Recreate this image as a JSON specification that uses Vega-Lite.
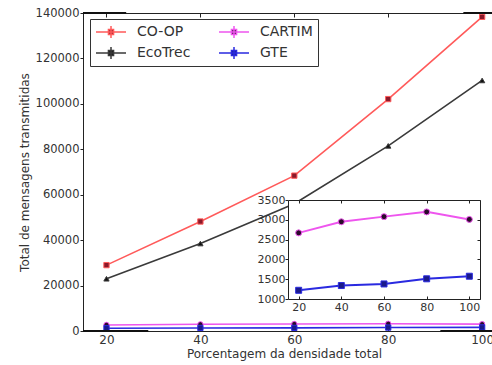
{
  "$schema": "https://vega.github.io/schema/vega-lite/v6.json",
  "width": 409,
  "height": 318,
  "autosize": {"type": "none"},
  "padding": {"left": 83, "top": 13, "right": 0, "bottom": 34},
  "background": "white",
  "config": {
    "view": {"stroke": null},
    "font": "DejaVu Sans",
    "axis": {
      "grid": false,
      "domainColor": "#222222",
      "tickColor": "#222222",
      "labelColor": "#333333",
      "titleColor": "#333333",
      "labelFont": "DejaVu Sans",
      "titleFont": "DejaVu Sans",
      "titleFontWeight": "normal"
    },
    "legend": {
      "orient": "none", "legendX": 7, "legendY": 6, "columns": 2, "title": null,
      "strokeColor": "#333333", "fillColor": "white", "padding": 5,
      "labelFontSize": 14, "labelOffset": 10, "labelColor": "#333333", "labelFont": "DejaVu Sans",
      "columnPadding": 27, "rowPadding": 5, "symbolSize": 900, "clipHeight": 16,
      "symbolStrokeWidth": 1.5,
      "symbolType": "M-1,0H1M0,-0.4V0.4M-0.17,-0.17H0.17V0.17H-0.17Z"
    }
  },
  "datasets": {
    "results": [
      {"protocolo": "CO-OP", "densidade": 20, "mensagens": 29000},
      {"protocolo": "CO-OP", "densidade": 40, "mensagens": 48200},
      {"protocolo": "CO-OP", "densidade": 60, "mensagens": 68400},
      {"protocolo": "CO-OP", "densidade": 80, "mensagens": 102100},
      {"protocolo": "CO-OP", "densidade": 100, "mensagens": 138300},
      {"protocolo": "EcoTrec", "densidade": 20, "mensagens": 23000},
      {"protocolo": "EcoTrec", "densidade": 40, "mensagens": 38500},
      {"protocolo": "EcoTrec", "densidade": 60, "mensagens": 56000},
      {"protocolo": "EcoTrec", "densidade": 80, "mensagens": 81500},
      {"protocolo": "EcoTrec", "densidade": 100, "mensagens": 110300},
      {"protocolo": "CARTIM", "densidade": 20, "mensagens": 2670},
      {"protocolo": "CARTIM", "densidade": 40, "mensagens": 2950},
      {"protocolo": "CARTIM", "densidade": 60, "mensagens": 3080},
      {"protocolo": "CARTIM", "densidade": 80, "mensagens": 3200},
      {"protocolo": "CARTIM", "densidade": 100, "mensagens": 3010},
      {"protocolo": "GTE", "densidade": 20, "mensagens": 1220},
      {"protocolo": "GTE", "densidade": 40, "mensagens": 1340},
      {"protocolo": "GTE", "densidade": 60, "mensagens": 1380},
      {"protocolo": "GTE", "densidade": 80, "mensagens": 1510},
      {"protocolo": "GTE", "densidade": 100, "mensagens": 1575}
    ],
    "spine_marks": [
      {"y": 0, "x": 15, "x2": 28.9},
      {"y": 0, "x": 91.1, "x2": 102.1},
      {"y": 140000, "x": 15, "x2": 24.2},
      {"y": 140000, "x": 96.0, "x2": 102.1}
    ]
  },
  "resolve": {"scale": {"x": "independent", "y": "independent"}},
  "layer": [
    {
      "data": {"name": "results"},
      "resolve": {"axis": {"x": "independent", "y": "independent"}},
      "layer": [
        {
          "mark": {"type": "line", "strokeWidth": 1.6},
          "encoding": {
            "x": {
              "field": "densidade", "type": "quantitative",
              "scale": {"domain": [15, 102.1], "nice": false, "zero": false},
              "axis": {
                "orient": "bottom", "values": [20, 40, 60, 80, 100], "format": "d",
                "labelFontSize": 12, "tickSize": -4, "labelPadding": 7,
                "title": "Porcentagem da densidade total", "titleFontSize": 12,
                "titlePadding": 3, "titleX": 201
              }
            },
            "y": {
              "field": "mensagens", "type": "quantitative",
              "scale": {"domain": [0, 140000], "nice": false, "zero": false},
              "axis": {
                "orient": "left", "values": [0, 20000, 40000, 60000, 80000, 100000, 120000, 140000],
                "format": "d", "labelFontSize": 11.5, "tickSize": 3, "labelPadding": 1,
                "title": "Total de mensagens transmitidas", "titleFontSize": 12,
                "titleX": -52, "titleY": 159
              }
            },
            "stroke": {
              "field": "protocolo", "type": "nominal",
              "scale": {"domain": ["CO-OP", "EcoTrec", "CARTIM", "GTE"], "range": ["#ff5a5a", "#3a3a3a", "#ee55ee", "#2a2ae0"]}
            }
          }
        },
        {
          "mark": {"type": "point", "filled": true, "size": 28, "strokeWidth": 1, "opacity": 1},
          "encoding": {
            "x": {
              "field": "densidade", "type": "quantitative",
              "axis": {"orient": "top", "values": [20, 40, 60, 80, 100], "labels": false, "tickSize": -4, "title": null}
            },
            "y": {"field": "mensagens", "type": "quantitative", "axis": null},
            "stroke": {"field": "protocolo", "type": "nominal"},
            "fill": {
              "field": "protocolo", "type": "nominal",
              "scale": {"domain": ["CO-OP", "EcoTrec", "CARTIM", "GTE"], "range": ["#8b1a2b", "#111111", "#2a0a2a", "#1a1a8a"]}
            },
            "shape": {
              "field": "protocolo", "type": "nominal",
              "scale": {"domain": ["CO-OP", "CARTIM", "EcoTrec", "GTE"], "range": ["square", "circle", "triangle-up", "square"]},
              "legend": null
            }
          }
        },
        {
          "data": {"name": "spine_marks"},
          "mark": {"type": "rule", "strokeWidth": 2, "color": "#111111"},
          "encoding": {
            "x": {"field": "x", "type": "quantitative", "axis": null},
            "x2": {"field": "x2"},
            "y": {"field": "y", "type": "quantitative", "axis": null}
          }
        }
      ]
    },
    {
      "data": {"name": "results"},
      "transform": [{"filter": "datum.protocolo === 'CARTIM' || datum.protocolo === 'GTE'"}],
      "resolve": {"axis": {"x": "independent", "y": "independent"}},
      "layer": [
        {
          "data": {"values": [{}]},
          "mark": {"type": "rect", "fill": "white", "stroke": null},
          "encoding": {
            "x": {
              "datum": 15, "type": "quantitative",
              "scale": {"domain": [15, 105], "range": [205, 397], "nice": false, "zero": false},
              "axis": {
                "orient": "bottom", "offset": -32, "values": [20, 40, 60, 80, 100], "format": "d",
                "labelFontSize": 11, "tickSize": -3, "labelPadding": 5, "title": null, "zindex": 1
              }
            },
            "x2": {"datum": 105},
            "y": {
              "datum": 1000, "type": "quantitative",
              "scale": {"domain": [1000, 3500], "range": [286, 187], "nice": false, "zero": false},
              "axis": {
                "orient": "left", "offset": -205, "values": [1000, 1500, 2000, 2500, 3000, 3500], "format": "d",
                "labelFontSize": 11, "tickSize": 3, "labelPadding": 0, "title": null, "zindex": 1
              }
            },
            "y2": {"datum": 3500}
          }
        },
        {
          "mark": {"type": "line", "strokeWidth": 2},
          "encoding": {
            "x": {
              "field": "densidade", "type": "quantitative",
              "axis": {"orient": "top", "offset": -187, "values": [20, 40, 60, 80, 100], "labels": false, "tickSize": -3, "title": null, "zindex": 1}
            },
            "y": {
              "field": "mensagens", "type": "quantitative",
              "axis": {"orient": "right", "offset": -12, "values": [1000, 1500, 2000, 2500, 3000, 3500], "labels": false, "tickSize": -3, "title": null, "zindex": 1}
            },
            "stroke": {"field": "protocolo", "type": "nominal"}
          }
        },
        {
          "mark": {"type": "point", "filled": true, "size": 36, "strokeWidth": 1, "opacity": 1},
          "encoding": {
            "x": {"field": "densidade", "type": "quantitative", "axis": null},
            "y": {"field": "mensagens", "type": "quantitative", "axis": null},
            "stroke": {"field": "protocolo", "type": "nominal"},
            "fill": {"field": "protocolo", "type": "nominal"},
            "shape": {"field": "protocolo", "type": "nominal", "legend": null}
          }
        }
      ]
    }
  ]
}
